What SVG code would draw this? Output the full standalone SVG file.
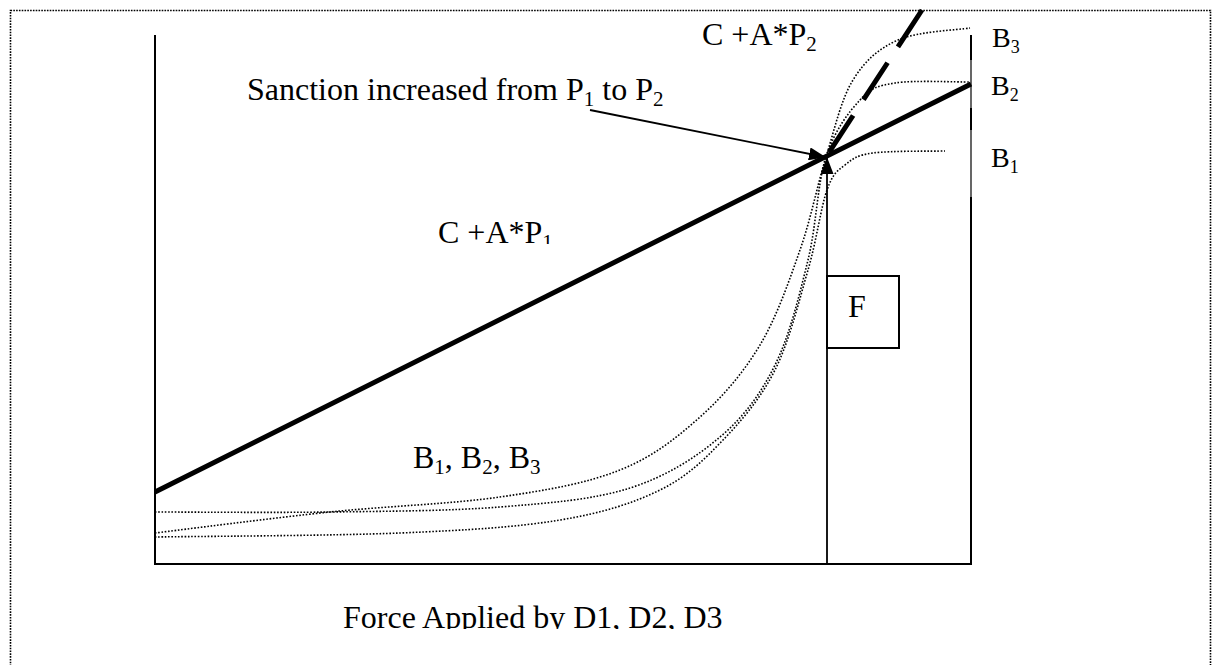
<svg xmlns="http://www.w3.org/2000/svg" width="1215" height="665" viewBox="0 0 1215 665">
<style>
text{font-family:"Liberation Serif","Times New Roman",serif;fill:#000}
.big{font-size:32px}
.lbl{font-size:28px}
.sub{font-size:21px}
.lsub{font-size:18px}
.axis{stroke:#000;stroke-width:2;fill:none}
.dot{stroke:#000;stroke-width:1.6;stroke-dasharray:1.6 1.7;fill:none}
.thick{stroke:#000;stroke-width:5;fill:none}
.arrow{stroke:#000;stroke-width:1.8;fill:none}
</style>
<defs>
<marker id="ah" viewBox="0 0 17 13" refX="16" refY="6.5" markerWidth="17" markerHeight="13" orient="auto" markerUnits="userSpaceOnUse"><path d="M0,0 L17,6.5 L0,13 z" fill="#000"/></marker>
<clipPath id="clipP1"><rect x="400" y="180" width="200" height="64"/></clipPath>
<clipPath id="clipForce"><rect x="300" y="580" width="500" height="49"/></clipPath>
</defs>
<rect width="1215" height="665" fill="#fff"/>
<g id="frame"><rect x="10.5" y="10.5" width="1200" height="700" fill="none" stroke="#000" stroke-width="1.6" stroke-dasharray="1.6 1.2"/></g>
<g id="axes">
<line class="axis" x1="155" y1="35" x2="155" y2="565"/>
<line class="axis" x1="154" y1="564" x2="972" y2="564"/>
<line stroke="#000" stroke-width="1.2" x1="971" y1="35" x2="971" y2="564"/>
<line stroke="#000" stroke-width="2" x1="971" y1="35" x2="971" y2="60"/>
<line stroke="#000" stroke-width="2" x1="971" y1="108" x2="971" y2="130"/>
<line stroke="#000" stroke-width="2" x1="971" y1="197" x2="971" y2="564"/>
</g>
<g id="curves">
<path id="curveB3" class="dot" d="M155,533 C184,529.5 272.5,518 330,512 C387.5,506 451.7,504 500,497 C548.3,490 586.7,483.3 620,470 C653.3,456.7 676.7,437.8 700,417 C723.3,396.2 743.3,372.8 760,345 C776.7,317.2 789,281.3 800,250 C811,218.7 817.2,185.3 826,157 C834.8,128.7 841,99.5 853,80 C865,60.5 878.5,48.7 898,40 C917.5,31.3 958,30 970,28"/>
<path id="curveB2" class="dot" d="M155,512 C184,512 272.5,512.8 330,512 C387.5,511.2 450,511 500,507 C550,503 593.3,499.7 630,488 C666.7,476.3 695.8,457.5 720,437 C744.2,416.5 760.3,394.5 775,365 C789.7,335.5 799.5,294.7 808,260 C816.5,225.3 817.3,183.7 826,157 C834.7,130.3 848.5,112.3 860,100 C871.5,87.7 876.7,86 895,83 C913.3,80 957.5,82.2 970,82"/>
<path id="curveB1" class="dot" d="M155,537 C195.8,536.3 332.5,535.8 400,533 C467.5,530.2 516.7,527.2 560,520 C603.3,512.8 632.8,503.3 660,490 C687.2,476.7 703.8,460 723,440 C742.2,420 760.8,398.3 775,370 C789.2,341.7 799.3,300 808,270 C816.7,240 820.8,207.5 827,190 C833.2,172.5 837.3,171.2 845,165 C852.7,158.8 856.3,155.3 873,153 C889.7,150.7 933,151.3 945,151"/>
</g>
<g id="lineP1"><line class="thick" x1="155" y1="492" x2="971" y2="84"/></g>
<g id="lineP2"><line class="thick" x1="922" y1="10" x2="826" y2="157" stroke-dasharray="44 19"/></g>
<g id="boxF">
<rect x="827" y="276" width="72" height="72" fill="#fff" stroke="#000" stroke-width="2"/>
<text class="big" x="848" y="317">F</text>
</g>
<g id="connectors">
<line class="arrow" x1="590" y1="110" x2="825" y2="157" marker-end="url(#ah)"/>
<line class="arrow" x1="827" y1="564" x2="827" y2="158" marker-end="url(#ah)"/>
</g>
<g id="labels">
<text class="big" x="247" y="100">Sanction increased from P<tspan class="sub" dy="6">1</tspan><tspan dy="-6"> to P</tspan><tspan class="sub" dy="6">2</tspan></text>
<text class="big" x="702" y="45">C +A*P<tspan class="sub" dy="6">2</tspan></text>
<text class="big" x="438" y="243" clip-path="url(#clipP1)">C +A*P<tspan class="sub" dy="6">1</tspan></text>
<text class="big" x="413" y="468">B<tspan class="sub" dy="6">1</tspan><tspan dy="-6">, B</tspan><tspan class="sub" dy="6">2</tspan><tspan dy="-6">, B</tspan><tspan class="sub" dy="6">3</tspan></text>
<text class="big" x="343" y="628" clip-path="url(#clipForce)">Force Applied by D1, D2, D3</text>
<text class="lbl" x="992" y="47">B<tspan class="lsub" dy="6">3</tspan></text>
<text class="lbl" x="991" y="95">B<tspan class="lsub" dy="6">2</tspan></text>
<text class="lbl" x="991" y="167">B<tspan class="lsub" dy="6">1</tspan></text>
</g>
</svg>
